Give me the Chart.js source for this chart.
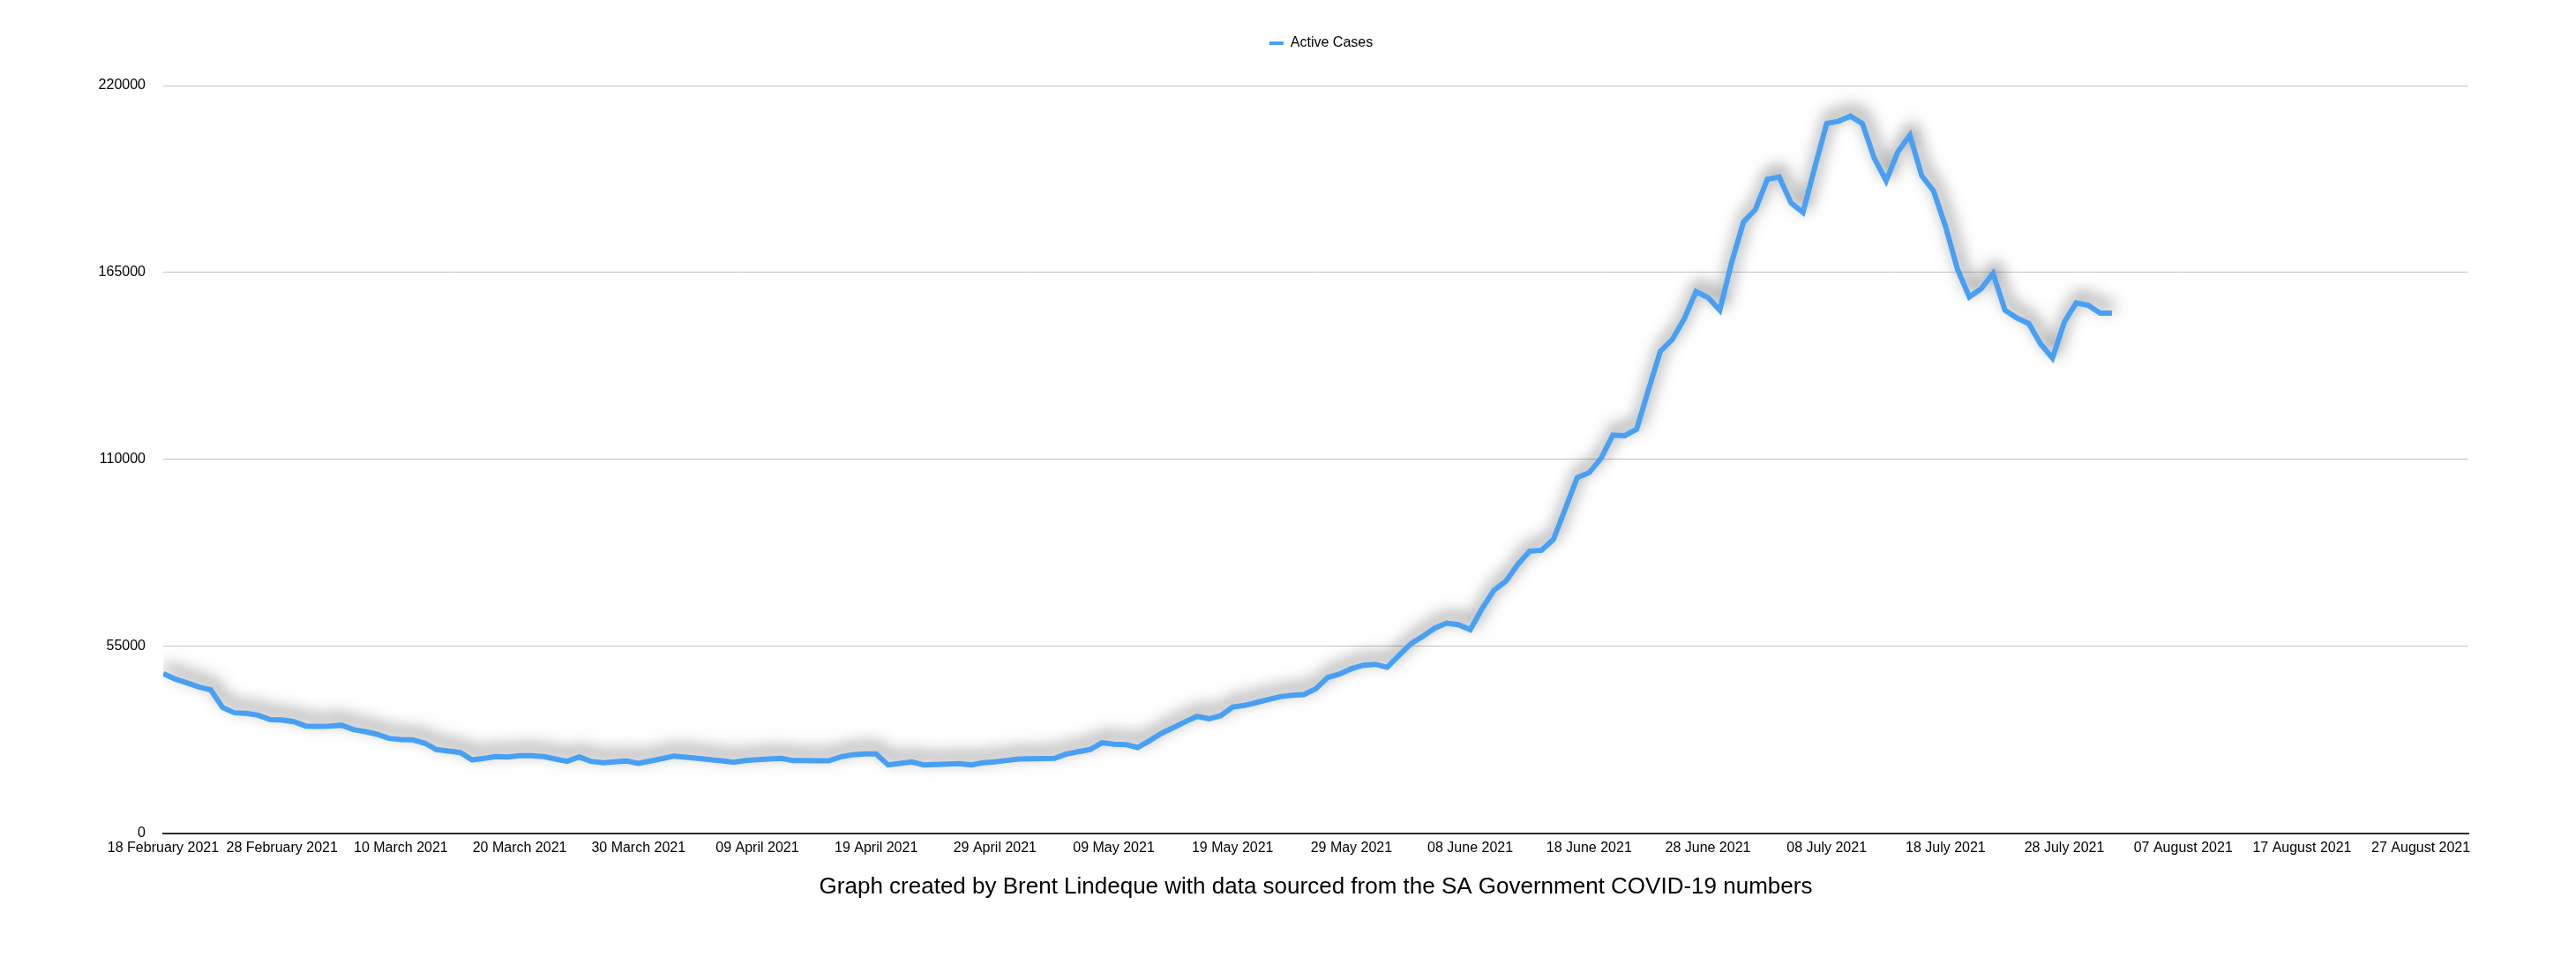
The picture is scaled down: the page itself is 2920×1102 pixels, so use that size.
<!DOCTYPE html>
<html>
<head>
<meta charset="utf-8">
<title>Active Cases</title>
<script src="https://cdn.jsdelivr.net/npm/chart.js@4.4.1/dist/chart.umd.min.js"></script>
<style>
  html, body { margin: 0; padding: 0; background: #fff; }
  #wrap { width: 2920px; height: 1102px; }
</style>
</head>
<body>
<div id="wrap"><canvas id="chart" width="2920" height="1102"></canvas></div>
<script>
// --- Data (one value per day, starting 18 February 2021) ---
const seriesLabel = "Active Cases";

const activeCases = [
    46960, 45400, 44280, 43060, 42200, 37000, 35460, 35280, 34760, 33470,
    33380, 32860, 31570, 31480, 31570, 31830, 30530, 29920, 29140, 27930,
    27580, 27500, 26550, 24650, 24210, 23780, 21610, 22050, 22570, 22480,
    22830, 22830, 22570, 21870, 21180, 22480, 21180, 20760, 21010, 21300,
    20580, 21300, 22000, 22740, 22400, 22050, 21700, 21350, 20930, 21440,
    21650, 21850, 22050, 21440, 21420, 21380, 21350, 22480, 23100, 23350,
    23350, 20150, 20600, 21010, 20150, 20250, 20400, 20500, 20150, 20750,
    21010, 21450, 21870, 21930, 22000, 22050, 23350, 24000, 24650, 26640,
    26200, 26120, 25250, 27240, 29400, 31100, 32800, 34420, 33730, 34590,
    37180, 37620, 38480, 39340, 40210, 40640, 40810, 42550, 45840, 46870,
    48430, 49470, 49730, 48850, 52320, 55780, 57940, 60360, 61830, 61400,
    59930, 66150, 71520, 74190, 79120, 83020, 83280, 86470, 95500, 104630,
    106110, 110260, 117180, 117000, 118900, 130500, 141830, 145280, 151330, 159380,
    157650, 153920, 168000, 179870, 183550, 192400, 193100, 185480, 182700, 196000,
    208840, 209530, 211000, 208840, 198630, 191980, 200620, 205390, 193440, 188930,
    178550, 166030, 157810, 160240, 164740, 153920, 151600, 150030, 143980, 139830,
    150470, 156100, 155390, 153060, 153060
];

// x tick labels, every 10 days
const dateTicks = [
    "18 February 2021", "28 February 2021", "10 March 2021", "20 March 2021",
    "30 March 2021", "09 April 2021", "19 April 2021", "29 April 2021",
    "09 May 2021", "19 May 2021", "29 May 2021", "08 June 2021",
    "18 June 2021", "28 June 2021", "08 July 2021", "18 July 2021",
    "28 July 2021", "07 August 2021", "17 August 2021", "27 August 2021"
];

const yTicks = [0, 55000, 110000, 165000, 220000];

const caption = "Graph created by Brent Lindeque with data sourced from the SA Government COVID-19 numbers";

// --- Chart ---
Chart.defaults.font.family = "'Liberation Sans', Arial, Helvetica, sans-serif";
Chart.defaults.color = "#000";

const lineBlue = "#48a0f4";
const legendTop = 31;

// soft grey shadow behind the line
const lineShadow = {
    id: "lineShadow",
    beforeDatasetDraw(chart) {
        const ctx = chart.ctx;
        ctx.save();
        ctx.shadowColor = "rgba(0, 0, 0, 0.65)";
        ctx.shadowBlur = 18;
        ctx.shadowOffsetX = 3;
        ctx.shadowOffsetY = -8;
    },
    afterDatasetDraw(chart) {
        chart.ctx.restore();
    }
};

// keep the legend near the top edge even though the plot starts lower
const legendNudge = {
    id: "legendNudge",
    afterLayout(chart) {
        const lg = chart.legend;
        if (!lg) return;
        const shift = lg.top - legendTop;
        lg.top -= shift;
        lg.bottom -= shift;
    }
};

const ctx = document.getElementById("chart").getContext("2d");

new Chart(ctx, {
    type: "line",
    data: {
        datasets: [{
            label: seriesLabel,
            data: activeCases.map((v, i) => ({ x: i, y: v })),
            borderColor: lineBlue,
            backgroundColor: lineBlue,
            borderWidth: 6,
            borderJoinStyle: "miter",
            pointRadius: 0,
            fill: false,
            tension: 0
        }]
    },
    options: {
        responsive: false,
        animation: false,
        devicePixelRatio: 1,
        layout: { padding: { top: legendTop, left: 75, right: 0, bottom: 0 } },
        plugins: {
            legend: {
                position: "top",
                labels: {
                    boxWidth: 16,
                    boxHeight: 4,
                    padding: 10,
                    color: "#000",
                    font: { size: 16 },
                    generateLabels: () => [{
                        text: seriesLabel,
                        fillStyle: lineBlue,
                        strokeStyle: lineBlue,
                        lineWidth: 0,
                        datasetIndex: 0
                    }]
                }
            },
            title: {
                display: true,
                position: "bottom",
                fullSize: false,
                text: caption,
                color: "#000",
                font: { size: 26, weight: "normal", lineHeight: 1.2 },
                padding: { top: 5, bottom: 81 }
            },
            tooltip: { enabled: false }
        },
        scales: {
            x: {
                type: "linear",
                min: 0,
                max: 194,
                grid: { display: false, drawTicks: false },
                border: { display: true, color: "#2b2b2b", width: 2 },
                afterBuildTicks: (axis) => {
                    axis.ticks = dateTicks.map((_, i) => ({ value: i * 10 }));
                },
                afterFit: (axis) => {
                    axis.height = 40;
                    axis.paddingRight = 122;
                },
                ticks: {
                    autoSkip: false,
                    maxRotation: 0,
                    minRotation: 0,
                    padding: 7,
                    color: "#000",
                    font: { size: 16 },
                    callback: (value, index) => dateTicks[index]
                }
            },
            y: {
                min: 0,
                max: 220000,
                grid: { color: "#c4c4c4", lineWidth: 1, drawTicks: false },
                border: { display: false },
                afterBuildTicks: (axis) => {
                    axis.ticks = yTicks.map(v => ({ value: v }));
                },
                afterFit: (axis) => {
                    axis.width = 110;
                    axis.paddingTop = 97;
                },
                ticks: {
                    padding: 20,
                    color: "#000",
                    font: { size: 16 },
                    callback: (value) => String(value)
                }
            }
        }
    },
    plugins: [lineShadow, legendNudge]
});
</script>
</body>
</html>
